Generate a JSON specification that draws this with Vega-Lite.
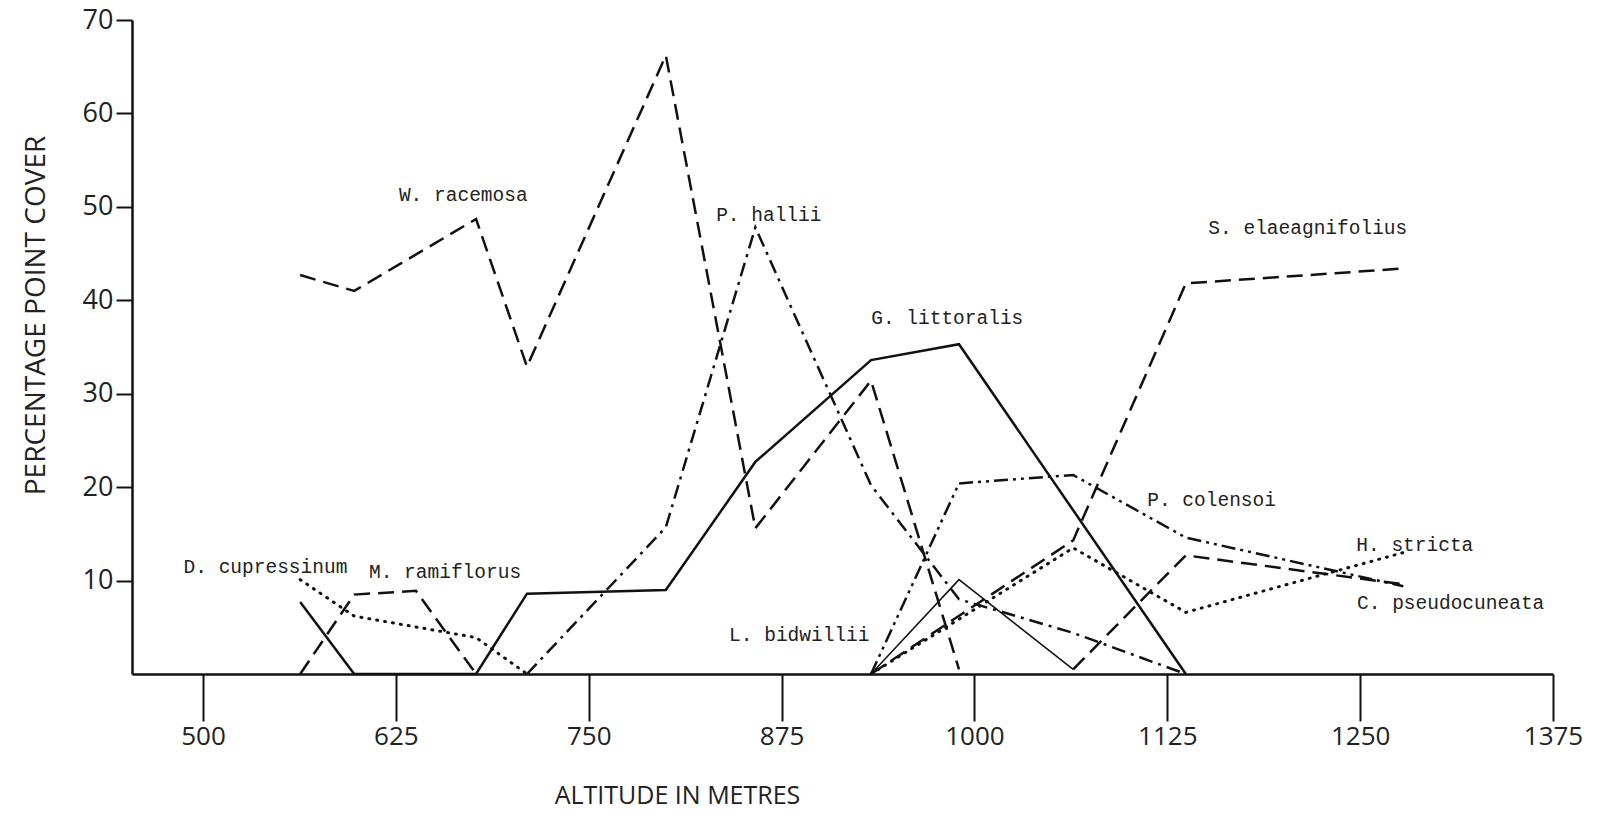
{
  "$schema": "https://vega.github.io/schema/vega-lite/v6.json",
  "width": 1421,
  "height": 654,
  "autosize": {"type": "none"},
  "padding": {"left": 132, "top": 20, "right": 54, "bottom": 145},
  "background": "white",
  "config": {"view": {"stroke": null}},
  "datasets": {
    "lines": [
      {"species": "W. racemosa", "alt": 563, "cover": 42.7},
      {"species": "W. racemosa", "alt": 598, "cover": 41.0},
      {"species": "W. racemosa", "alt": 677, "cover": 48.7},
      {"species": "W. racemosa", "alt": 710, "cover": 32.9},
      {"species": "W. racemosa", "alt": 800, "cover": 66.2},
      {"species": "W. racemosa", "alt": 858, "cover": 15.6},
      {"species": "W. racemosa", "alt": 933, "cover": 31.4},
      {"species": "W. racemosa", "alt": 990, "cover": 0.5},
      {"species": "D. cupressinum", "alt": 563, "cover": 10.1},
      {"species": "D. cupressinum", "alt": 598, "cover": 6.2},
      {"species": "D. cupressinum", "alt": 677, "cover": 3.9},
      {"species": "D. cupressinum", "alt": 710, "cover": 0},
      {"species": "M. ramiflorus", "alt": 563, "cover": 0},
      {"species": "M. ramiflorus", "alt": 598, "cover": 8.5},
      {"species": "M. ramiflorus", "alt": 638, "cover": 8.9},
      {"species": "M. ramiflorus", "alt": 677, "cover": 0},
      {"species": "G. littoralis", "alt": 563, "cover": 7.7},
      {"species": "G. littoralis", "alt": 598, "cover": 0},
      {"species": "G. littoralis", "alt": 677, "cover": 0},
      {"species": "G. littoralis", "alt": 710, "cover": 8.6},
      {"species": "G. littoralis", "alt": 800, "cover": 9.0},
      {"species": "G. littoralis", "alt": 858, "cover": 22.7},
      {"species": "G. littoralis", "alt": 933, "cover": 33.6},
      {"species": "G. littoralis", "alt": 990, "cover": 35.3},
      {"species": "G. littoralis", "alt": 1137, "cover": 0},
      {"species": "P. hallii", "alt": 710, "cover": 0},
      {"species": "P. hallii", "alt": 800, "cover": 15.7},
      {"species": "P. hallii", "alt": 858, "cover": 47.8},
      {"species": "P. hallii", "alt": 933, "cover": 20.2},
      {"species": "P. hallii", "alt": 990, "cover": 8.0},
      {"species": "P. hallii", "alt": 1064, "cover": 4.4},
      {"species": "P. hallii", "alt": 1137, "cover": 0},
      {"species": "S. elaeagnifolius", "alt": 933, "cover": 0},
      {"species": "S. elaeagnifolius", "alt": 1064, "cover": 14.3},
      {"species": "S. elaeagnifolius", "alt": 1137, "cover": 41.8},
      {"species": "S. elaeagnifolius", "alt": 1278, "cover": 43.4},
      {"species": "L. bidwillii", "alt": 933, "cover": 0},
      {"species": "L. bidwillii", "alt": 990, "cover": 10.1},
      {"species": "L. bidwillii", "alt": 1064, "cover": 0.5},
      {"species": "P. colensoi", "alt": 933, "cover": 0},
      {"species": "P. colensoi", "alt": 990, "cover": 20.4},
      {"species": "P. colensoi", "alt": 1064, "cover": 21.3},
      {"species": "P. colensoi", "alt": 1137, "cover": 14.6},
      {"species": "P. colensoi", "alt": 1278, "cover": 9.4},
      {"species": "H. stricta", "alt": 933, "cover": 0},
      {"species": "H. stricta", "alt": 1064, "cover": 13.5},
      {"species": "H. stricta", "alt": 1137, "cover": 6.6},
      {"species": "H. stricta", "alt": 1278, "cover": 13.0},
      {"species": "C. pseudocuneata", "alt": 1064, "cover": 0.5},
      {"species": "C. pseudocuneata", "alt": 1137, "cover": 12.7},
      {"species": "C. pseudocuneata", "alt": 1278, "cover": 9.6}
    ],
    "labels": [
      {"label": "W. racemosa", "alt": 627, "cover": 51.3},
      {"label": "P. hallii", "alt": 832.6, "cover": 49.1},
      {"label": "G. littoralis", "alt": 933.1, "cover": 38.1},
      {"label": "S. elaeagnifolius", "alt": 1151.6, "cover": 47.7},
      {"label": "D. cupressinum", "alt": 487.4, "cover": 11.5},
      {"label": "M. ramiflorus", "alt": 607.6, "cover": 10.9},
      {"label": "L. bidwillii", "alt": 841, "cover": 4.2},
      {"label": "P. colensoi", "alt": 1112, "cover": 18.6},
      {"label": "H. stricta", "alt": 1247.5, "cover": 13.8},
      {"label": "C. pseudocuneata", "alt": 1248, "cover": 7.6}
    ]
  },
  "encoding": {
    "x": {
      "field": "alt", "type": "quantitative",
      "scale": {"domain": [454, 1375], "nice": false, "zero": false},
      "axis": {
        "values": [500, 625, 750, 875, 1000, 1125, 1250, 1375],
        "format": "d",
        "grid": false, "tickSize": 47, "tickWidth": 2, "tickColor": "#111",
        "domainColor": "#111", "domainWidth": 2.5,
        "labelFont": "Open Sans", "labelFontSize": 26, "labelColor": "#222", "labelPadding": 2, "labelFlush": false,
        "title": "ALTITUDE IN  METRES", "titleFont": "Open Sans", "titleFontSize": 25, "titleFontWeight": "normal", "titleColor": "#222",
        "titleX": 545, "titleY": 121, "titleAlign": "center", "titleBaseline": "middle"
      }
    },
    "y": {
      "field": "cover", "type": "quantitative",
      "scale": {"domain": [0, 70], "nice": false},
      "axis": {
        "values": [10, 20, 30, 40, 50, 60, 70],
        "format": "d",
        "grid": false, "tickSize": 16, "tickWidth": 2, "tickColor": "#111",
        "domainColor": "#111", "domainWidth": 2.5,
        "labelFont": "Open Sans", "labelFontSize": 27, "labelColor": "#222", "labelPadding": 3, "labelFlush": false,
        "title": "PERCENTAGE POINT COVER", "titleFont": "Open Sans", "titleFontSize": 28, "titleFontWeight": "normal", "titleColor": "#222",
        "titleX": -96, "titleY": 295, "titleAngle": -90, "titleAlign": "center", "titleBaseline": "middle"
      }
    }
  },
  "layer": [
    {
      "data": {"name": "lines"},
      "transform": [{"filter": {"field": "species", "oneOf": ["W. racemosa", "M. ramiflorus", "S. elaeagnifolius", "C. pseudocuneata"]}}],
      "mark": {"type": "line", "color": "#111", "strokeWidth": 2.5, "strokeDash": [16, 8]},
      "encoding": {"detail": {"field": "species"}}
    },
    {
      "data": {"name": "lines"},
      "transform": [{"filter": {"field": "species", "oneOf": ["P. hallii"]}}],
      "mark": {"type": "line", "color": "#111", "strokeWidth": 2.5, "strokeDash": [14, 6, 3, 6]},
      "encoding": {"detail": {"field": "species"}}
    },
    {
      "data": {"name": "lines"},
      "transform": [{"filter": {"field": "species", "oneOf": ["P. colensoi"]}}],
      "mark": {"type": "line", "color": "#111", "strokeWidth": 2.5, "strokeDash": [14, 5, 3, 5, 3, 5]},
      "encoding": {"detail": {"field": "species"}}
    },
    {
      "data": {"name": "lines"},
      "transform": [{"filter": {"field": "species", "oneOf": ["D. cupressinum", "H. stricta"]}}],
      "mark": {"type": "line", "color": "#111", "strokeWidth": 3, "strokeDash": [1, 7], "strokeCap": "round"},
      "encoding": {"detail": {"field": "species"}}
    },
    {
      "data": {"name": "lines"},
      "transform": [{"filter": {"field": "species", "oneOf": ["G. littoralis"]}}],
      "mark": {"type": "line", "color": "#111", "strokeWidth": 2.5},
      "encoding": {"detail": {"field": "species"}}
    },
    {
      "data": {"name": "lines"},
      "transform": [{"filter": {"field": "species", "oneOf": ["L. bidwillii"]}}],
      "mark": {"type": "line", "color": "#111", "strokeWidth": 1.5},
      "encoding": {"detail": {"field": "species"}}
    },
    {
      "data": {"name": "labels"},
      "mark": {"type": "text", "font": "Liberation Mono", "fontSize": 19.5, "color": "#222", "align": "left", "baseline": "middle"},
      "encoding": {"text": {"field": "label"}}
    }
  ]
}
